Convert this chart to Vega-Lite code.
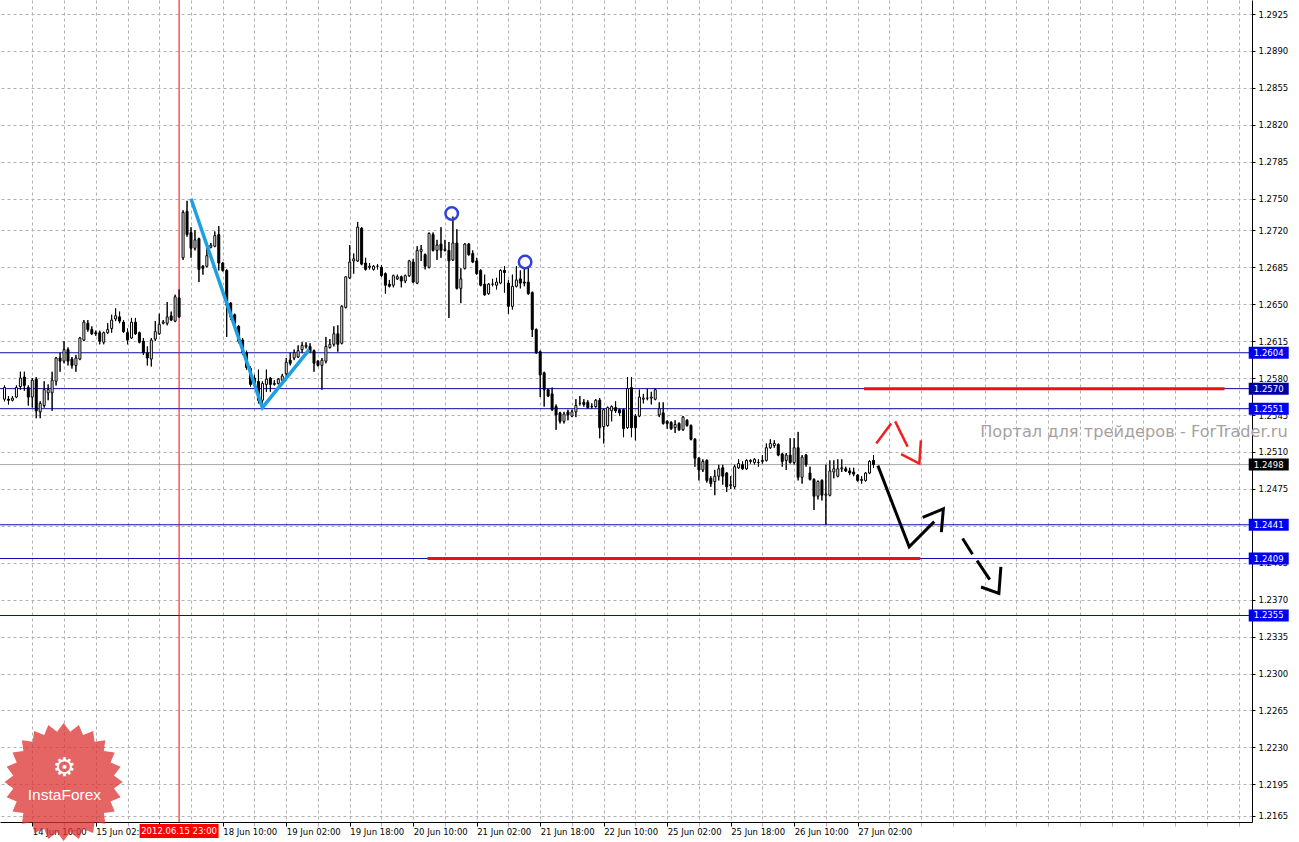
{
  "$schema": "https://vega.github.io/schema/vega-lite/v6.json",
  "width": 1252,
  "height": 822,
  "autosize": {"type": "none"},
  "padding": {"left": 0, "top": 0, "right": 47, "bottom": 20},
  "background": "white",
  "config": {"view": {"stroke": null}, "font": "DejaVu Sans"},
  "datasets": {
    "candles": [
      {"n":-7,"o":1.2560,"h":1.2573,"l":1.2558,"c":1.2571},
      {"n":-6,"o":1.2560,"h":1.2563,"l":1.2555,"c":1.2559},
      {"n":-5,"o":1.2559,"h":1.2563,"l":1.2558,"c":1.2561},
      {"n":-4,"o":1.2562,"h":1.2573,"l":1.2561,"c":1.2571},
      {"n":-3,"o":1.2572,"h":1.2586,"l":1.2569,"c":1.2580},
      {"n":-2,"o":1.2581,"h":1.2586,"l":1.2568,"c":1.2573},
      {"n":-1,"o":1.2571,"h":1.2573,"l":1.2554,"c":1.2562},
      {"n":0,"o":1.2562,"h":1.2580,"l":1.2552,"c":1.2578},
      {"n":1,"o":1.2579,"h":1.2581,"l":1.2542,"c":1.2549},
      {"n":2,"o":1.2548,"h":1.2558,"l":1.2542,"c":1.2556},
      {"n":3,"o":1.2554,"h":1.2577,"l":1.2552,"c":1.2569},
      {"n":4,"o":1.2566,"h":1.2574,"l":1.2559,"c":1.2569},
      {"n":5,"o":1.2566,"h":1.2586,"l":1.2549,"c":1.2578},
      {"n":6,"o":1.2577,"h":1.2600,"l":1.2573,"c":1.2599},
      {"n":7,"o":1.2599,"h":1.2604,"l":1.2586,"c":1.2596},
      {"n":8,"o":1.2596,"h":1.2615,"l":1.2594,"c":1.2607},
      {"n":9,"o":1.2607,"h":1.2609,"l":1.2592,"c":1.2596},
      {"n":10,"o":1.2598,"h":1.2600,"l":1.2589,"c":1.2592},
      {"n":11,"o":1.2592,"h":1.2602,"l":1.2586,"c":1.2599},
      {"n":12,"o":1.2598,"h":1.2619,"l":1.2597,"c":1.2618},
      {"n":13,"o":1.2616,"h":1.2635,"l":1.2615,"c":1.2633},
      {"n":14,"o":1.2632,"h":1.2635,"l":1.2624,"c":1.2626},
      {"n":15,"o":1.2626,"h":1.2629,"l":1.2621,"c":1.2622},
      {"n":16,"o":1.2623,"h":1.2625,"l":1.2620,"c":1.2622},
      {"n":17,"o":1.2623,"h":1.2625,"l":1.2612,"c":1.2615},
      {"n":18,"o":1.2614,"h":1.2624,"l":1.2612,"c":1.2623},
      {"n":19,"o":1.2623,"h":1.2632,"l":1.2622,"c":1.2626},
      {"n":20,"o":1.2627,"h":1.2640,"l":1.2623,"c":1.2635},
      {"n":21,"o":1.2636,"h":1.2646,"l":1.2634,"c":1.2639},
      {"n":22,"o":1.2638,"h":1.2643,"l":1.2632,"c":1.2634},
      {"n":23,"o":1.2633,"h":1.2635,"l":1.2623,"c":1.2624},
      {"n":24,"o":1.2623,"h":1.2627,"l":1.2612,"c":1.2616},
      {"n":25,"o":1.2618,"h":1.2637,"l":1.2617,"c":1.2633},
      {"n":26,"o":1.2633,"h":1.2637,"l":1.2621,"c":1.2622},
      {"n":27,"o":1.2623,"h":1.2624,"l":1.2613,"c":1.2614},
      {"n":28,"o":1.2615,"h":1.2618,"l":1.2602,"c":1.2604},
      {"n":29,"o":1.2604,"h":1.2610,"l":1.2592,"c":1.2599},
      {"n":30,"o":1.2598,"h":1.2618,"l":1.2591,"c":1.2616},
      {"n":31,"o":1.2617,"h":1.2634,"l":1.2615,"c":1.2624},
      {"n":32,"o":1.2622,"h":1.2641,"l":1.2621,"c":1.2631},
      {"n":33,"o":1.2632,"h":1.2635,"l":1.2631,"c":1.2633},
      {"n":34,"o":1.2632,"h":1.2652,"l":1.2630,"c":1.2638},
      {"n":35,"o":1.2639,"h":1.2643,"l":1.2634,"c":1.2635},
      {"n":36,"o":1.2634,"h":1.2659,"l":1.2633,"c":1.2657},
      {"n":37,"o":1.2656,"h":1.2664,"l":1.2637,"c":1.2638},
      {"n":38,"o":1.2694,"h":1.2739,"l":1.2692,"c":1.2737},
      {"n":39,"o":1.2738,"h":1.2748,"l":1.2714,"c":1.2716},
      {"n":40,"o":1.2718,"h":1.2723,"l":1.2694,"c":1.2703},
      {"n":41,"o":1.2703,"h":1.2720,"l":1.2701,"c":1.2711},
      {"n":42,"o":1.2712,"h":1.2713,"l":1.2671,"c":1.2683},
      {"n":43,"o":1.2686,"h":1.2687,"l":1.2678,"c":1.2684},
      {"n":44,"o":1.2686,"h":1.2706,"l":1.2685,"c":1.2696},
      {"n":45,"o":1.2704,"h":1.2708,"l":1.2703,"c":1.2706},
      {"n":46,"o":1.2705,"h":1.2719,"l":1.2704,"c":1.2715},
      {"n":47,"o":1.2716,"h":1.2724,"l":1.2682,"c":1.2689},
      {"n":48,"o":1.2689,"h":1.2690,"l":1.2681,"c":1.2682},
      {"n":49,"o":1.2682,"h":1.2683,"l":1.2619,"c":1.2649},
      {"n":50,"o":1.2651,"h":1.2652,"l":1.2635,"c":1.2638},
      {"n":51,"o":1.2640,"h":1.2641,"l":1.2626,"c":1.2632},
      {"n":52,"o":1.2629,"h":1.2630,"l":1.2613,"c":1.2615},
      {"n":53,"o":1.2616,"h":1.2618,"l":1.2602,"c":1.2604},
      {"n":54,"o":1.2604,"h":1.2606,"l":1.2588,"c":1.2590},
      {"n":55,"o":1.2589,"h":1.2591,"l":1.2572,"c":1.2574},
      {"n":56,"o":1.2580,"h":1.2583,"l":1.2572,"c":1.2574},
      {"n":57,"o":1.2577,"h":1.2588,"l":1.2556,"c":1.2559},
      {"n":58,"o":1.2559,"h":1.2577,"l":1.2552,"c":1.2575},
      {"n":59,"o":1.2574,"h":1.2588,"l":1.2567,"c":1.2579},
      {"n":60,"o":1.2580,"h":1.2581,"l":1.2567,"c":1.2574},
      {"n":61,"o":1.2574,"h":1.2578,"l":1.2573,"c":1.2575},
      {"n":62,"o":1.2575,"h":1.2580,"l":1.2574,"c":1.2579},
      {"n":63,"o":1.2578,"h":1.2584,"l":1.2577,"c":1.2582},
      {"n":64,"o":1.2584,"h":1.2599,"l":1.2581,"c":1.2595},
      {"n":65,"o":1.2597,"h":1.2604,"l":1.2592,"c":1.2594},
      {"n":66,"o":1.2599,"h":1.2607,"l":1.2597,"c":1.2604},
      {"n":67,"o":1.2600,"h":1.2611,"l":1.2599,"c":1.2606},
      {"n":68,"o":1.2607,"h":1.2614,"l":1.2604,"c":1.2611},
      {"n":69,"o":1.2610,"h":1.2614,"l":1.2608,"c":1.2611},
      {"n":70,"o":1.2610,"h":1.2613,"l":1.2604,"c":1.2605},
      {"n":71,"o":1.2606,"h":1.2607,"l":1.2586,"c":1.2594},
      {"n":72,"o":1.2596,"h":1.2597,"l":1.2591,"c":1.2592},
      {"n":73,"o":1.2592,"h":1.2599,"l":1.2569,"c":1.2597},
      {"n":74,"o":1.2596,"h":1.2619,"l":1.2594,"c":1.2610},
      {"n":75,"o":1.2609,"h":1.2617,"l":1.2608,"c":1.2612},
      {"n":76,"o":1.2612,"h":1.2629,"l":1.2610,"c":1.2622},
      {"n":77,"o":1.2622,"h":1.2630,"l":1.2605,"c":1.2612},
      {"n":78,"o":1.2613,"h":1.2649,"l":1.2612,"c":1.2648},
      {"n":79,"o":1.2647,"h":1.2676,"l":1.2646,"c":1.2676},
      {"n":80,"o":1.2675,"h":1.2706,"l":1.2674,"c":1.2690},
      {"n":81,"o":1.2691,"h":1.2698,"l":1.2679,"c":1.2693},
      {"n":82,"o":1.2691,"h":1.2728,"l":1.2690,"c":1.2723},
      {"n":83,"o":1.2722,"h":1.2723,"l":1.2687,"c":1.2688},
      {"n":84,"o":1.2689,"h":1.2694,"l":1.2682,"c":1.2683},
      {"n":85,"o":1.2685,"h":1.2689,"l":1.2683,"c":1.2686},
      {"n":86,"o":1.2683,"h":1.2687,"l":1.2682,"c":1.2686},
      {"n":87,"o":1.2686,"h":1.2688,"l":1.2683,"c":1.2686},
      {"n":88,"o":1.2685,"h":1.2687,"l":1.2676,"c":1.2677},
      {"n":89,"o":1.2679,"h":1.2680,"l":1.2660,"c":1.2668},
      {"n":90,"o":1.2669,"h":1.2673,"l":1.2666,"c":1.2667},
      {"n":91,"o":1.2668,"h":1.2678,"l":1.2666,"c":1.2677},
      {"n":92,"o":1.2674,"h":1.2678,"l":1.2673,"c":1.2676},
      {"n":93,"o":1.2676,"h":1.2677,"l":1.2666,"c":1.2672},
      {"n":94,"o":1.2672,"h":1.2678,"l":1.2670,"c":1.2677},
      {"n":95,"o":1.2677,"h":1.2692,"l":1.2676,"c":1.2691},
      {"n":96,"o":1.2690,"h":1.2693,"l":1.2670,"c":1.2671},
      {"n":97,"o":1.2670,"h":1.2705,"l":1.2669,"c":1.2701},
      {"n":98,"o":1.2700,"h":1.2706,"l":1.2691,"c":1.2702},
      {"n":99,"o":1.2697,"h":1.2698,"l":1.2683,"c":1.2686},
      {"n":100,"o":1.2685,"h":1.2718,"l":1.2684,"c":1.2717},
      {"n":101,"o":1.2716,"h":1.2718,"l":1.2700,"c":1.2701},
      {"n":102,"o":1.2701,"h":1.2711,"l":1.2692,"c":1.2706},
      {"n":103,"o":1.2707,"h":1.2723,"l":1.2694,"c":1.2701},
      {"n":104,"o":1.2701,"h":1.2711,"l":1.2700,"c":1.2702},
      {"n":105,"o":1.2701,"h":1.2709,"l":1.2637,"c":1.2691},
      {"n":106,"o":1.2692,"h":1.2733,"l":1.2691,"c":1.2708},
      {"n":107,"o":1.2708,"h":1.2721,"l":1.2664,"c":1.2665},
      {"n":108,"o":1.2665,"h":1.2684,"l":1.2651,"c":1.2674},
      {"n":109,"o":1.2684,"h":1.2708,"l":1.2683,"c":1.2707},
      {"n":110,"o":1.2707,"h":1.2708,"l":1.2696,"c":1.2697},
      {"n":111,"o":1.2698,"h":1.2701,"l":1.2689,"c":1.2690},
      {"n":112,"o":1.2691,"h":1.2694,"l":1.2678,"c":1.2679},
      {"n":113,"o":1.2682,"h":1.2683,"l":1.2667,"c":1.2668},
      {"n":114,"o":1.2669,"h":1.2678,"l":1.2658,"c":1.2659},
      {"n":115,"o":1.2660,"h":1.2670,"l":1.2659,"c":1.2669},
      {"n":116,"o":1.2669,"h":1.2674,"l":1.2667,"c":1.2669},
      {"n":117,"o":1.2668,"h":1.2675,"l":1.2664,"c":1.2671},
      {"n":118,"o":1.2670,"h":1.2683,"l":1.2669,"c":1.2682},
      {"n":119,"o":1.2682,"h":1.2686,"l":1.2661,"c":1.2680},
      {"n":120,"o":1.2670,"h":1.2673,"l":1.2641,"c":1.2648},
      {"n":121,"o":1.2648,"h":1.2678,"l":1.2645,"c":1.2667},
      {"n":122,"o":1.2667,"h":1.2686,"l":1.2666,"c":1.2673},
      {"n":123,"o":1.2674,"h":1.2682,"l":1.2665,"c":1.2670},
      {"n":124,"o":1.2671,"h":1.2685,"l":1.2667,"c":1.2670},
      {"n":125,"o":1.2671,"h":1.2685,"l":1.2659,"c":1.2660},
      {"n":126,"o":1.2661,"h":1.2662,"l":1.2619,"c":1.2626},
      {"n":127,"o":1.2626,"h":1.2627,"l":1.2603,"c":1.2604},
      {"n":128,"o":1.2605,"h":1.2606,"l":1.2562,"c":1.2583},
      {"n":129,"o":1.2585,"h":1.2586,"l":1.2553,"c":1.2569},
      {"n":130,"o":1.2569,"h":1.2570,"l":1.2562,"c":1.2563},
      {"n":131,"o":1.2565,"h":1.2571,"l":1.2549,"c":1.2550},
      {"n":132,"o":1.2553,"h":1.2555,"l":1.2531,"c":1.2545},
      {"n":133,"o":1.2547,"h":1.2548,"l":1.2537,"c":1.2539},
      {"n":134,"o":1.2539,"h":1.2548,"l":1.2537,"c":1.2546},
      {"n":135,"o":1.2548,"h":1.2550,"l":1.2540,"c":1.2545},
      {"n":136,"o":1.2544,"h":1.2550,"l":1.2543,"c":1.2548},
      {"n":137,"o":1.2548,"h":1.2560,"l":1.2543,"c":1.2554},
      {"n":138,"o":1.2556,"h":1.2563,"l":1.2554,"c":1.2556},
      {"n":139,"o":1.2557,"h":1.2560,"l":1.2553,"c":1.2555},
      {"n":140,"o":1.2557,"h":1.2559,"l":1.2551,"c":1.2552},
      {"n":141,"o":1.2553,"h":1.2556,"l":1.2551,"c":1.2553},
      {"n":142,"o":1.2553,"h":1.2560,"l":1.2552,"c":1.2559},
      {"n":143,"o":1.2559,"h":1.2561,"l":1.2523,"c":1.2533},
      {"n":144,"o":1.2534,"h":1.2551,"l":1.2518,"c":1.2550},
      {"n":145,"o":1.2535,"h":1.2553,"l":1.2534,"c":1.2552},
      {"n":146,"o":1.2549,"h":1.2554,"l":1.2539,"c":1.2553},
      {"n":147,"o":1.2552,"h":1.2558,"l":1.2547,"c":1.2549},
      {"n":148,"o":1.2550,"h":1.2551,"l":1.2544,"c":1.2547},
      {"n":149,"o":1.2550,"h":1.2551,"l":1.2524,"c":1.2532},
      {"n":150,"o":1.2533,"h":1.2581,"l":1.2532,"c":1.2570},
      {"n":151,"o":1.2571,"h":1.2581,"l":1.2524,"c":1.2533},
      {"n":152,"o":1.2544,"h":1.2546,"l":1.2521,"c":1.2533},
      {"n":153,"o":1.2544,"h":1.2569,"l":1.2543,"c":1.2562},
      {"n":154,"o":1.2560,"h":1.2565,"l":1.2556,"c":1.2561},
      {"n":155,"o":1.2561,"h":1.2570,"l":1.2559,"c":1.2561},
      {"n":156,"o":1.2561,"h":1.2567,"l":1.2555,"c":1.2562},
      {"n":157,"o":1.2560,"h":1.2570,"l":1.2559,"c":1.2569},
      {"n":158,"o":1.2545,"h":1.2557,"l":1.2543,"c":1.2551},
      {"n":159,"o":1.2547,"h":1.2557,"l":1.2536,"c":1.2537},
      {"n":160,"o":1.2539,"h":1.2540,"l":1.2532,"c":1.2537},
      {"n":161,"o":1.2538,"h":1.2539,"l":1.2531,"c":1.2532},
      {"n":162,"o":1.2533,"h":1.2540,"l":1.2528,"c":1.2536},
      {"n":163,"o":1.2537,"h":1.2538,"l":1.2530,"c":1.2531},
      {"n":164,"o":1.2531,"h":1.2544,"l":1.2530,"c":1.2543},
      {"n":165,"o":1.2540,"h":1.2541,"l":1.2534,"c":1.2535},
      {"n":166,"o":1.2535,"h":1.2536,"l":1.2521,"c":1.2522},
      {"n":167,"o":1.2522,"h":1.2523,"l":1.2496,"c":1.2504},
      {"n":168,"o":1.2504,"h":1.2505,"l":1.2483,"c":1.2493},
      {"n":169,"o":1.2493,"h":1.2503,"l":1.2491,"c":1.2501},
      {"n":170,"o":1.2502,"h":1.2503,"l":1.2481,"c":1.2483},
      {"n":171,"o":1.2485,"h":1.2487,"l":1.2477,"c":1.2480},
      {"n":172,"o":1.2482,"h":1.2493,"l":1.2469,"c":1.2487},
      {"n":173,"o":1.2487,"h":1.2498,"l":1.2483,"c":1.2494},
      {"n":174,"o":1.2495,"h":1.2498,"l":1.2479,"c":1.2487},
      {"n":175,"o":1.2490,"h":1.2491,"l":1.2472,"c":1.2477},
      {"n":176,"o":1.2478,"h":1.2487,"l":1.2475,"c":1.2479},
      {"n":177,"o":1.2477,"h":1.2498,"l":1.2475,"c":1.2496},
      {"n":178,"o":1.2495,"h":1.2503,"l":1.2494,"c":1.2499},
      {"n":179,"o":1.2498,"h":1.2501,"l":1.2493,"c":1.2494},
      {"n":180,"o":1.2494,"h":1.2503,"l":1.2493,"c":1.2502},
      {"n":181,"o":1.2501,"h":1.2503,"l":1.2499,"c":1.2502},
      {"n":182,"o":1.2500,"h":1.2504,"l":1.2498,"c":1.2503},
      {"n":183,"o":1.2500,"h":1.2503,"l":1.2496,"c":1.2500},
      {"n":184,"o":1.2501,"h":1.2507,"l":1.2499,"c":1.2502},
      {"n":185,"o":1.2502,"h":1.2518,"l":1.2501,"c":1.2514},
      {"n":186,"o":1.2514,"h":1.2522,"l":1.2513,"c":1.2518},
      {"n":187,"o":1.2516,"h":1.2521,"l":1.2514,"c":1.2518},
      {"n":188,"o":1.2517,"h":1.2518,"l":1.2506,"c":1.2507},
      {"n":189,"o":1.2508,"h":1.2509,"l":1.2496,"c":1.2501},
      {"n":190,"o":1.2502,"h":1.2509,"l":1.2493,"c":1.2507},
      {"n":191,"o":1.2507,"h":1.2523,"l":1.2499,"c":1.2500},
      {"n":192,"o":1.2500,"h":1.2523,"l":1.2498,"c":1.2514},
      {"n":193,"o":1.2514,"h":1.2529,"l":1.2483,"c":1.2486},
      {"n":194,"o":1.2486,"h":1.2507,"l":1.2480,"c":1.2505},
      {"n":195,"o":1.2507,"h":1.2508,"l":1.2496,"c":1.2498},
      {"n":196,"o":1.2490,"h":1.2496,"l":1.2483,"c":1.2484},
      {"n":197,"o":1.2484,"h":1.2485,"l":1.2455,"c":1.2468},
      {"n":198,"o":1.2468,"h":1.2483,"l":1.2465,"c":1.2482},
      {"n":199,"o":1.2483,"h":1.2484,"l":1.2464,"c":1.2469},
      {"n":200,"o":1.2469,"h":1.2498,"l":1.2441,"c":1.2470},
      {"n":201,"o":1.2469,"h":1.2502,"l":1.2468,"c":1.2492},
      {"n":202,"o":1.2491,"h":1.2502,"l":1.2485,"c":1.2494},
      {"n":203,"o":1.2487,"h":1.2503,"l":1.2486,"c":1.2494},
      {"n":204,"o":1.2494,"h":1.2503,"l":1.2491,"c":1.2495},
      {"n":205,"o":1.2494,"h":1.2496,"l":1.2491,"c":1.2492},
      {"n":206,"o":1.2492,"h":1.2495,"l":1.2488,"c":1.2490},
      {"n":207,"o":1.2491,"h":1.2495,"l":1.2487,"c":1.2489},
      {"n":208,"o":1.2488,"h":1.2489,"l":1.2482,"c":1.2483},
      {"n":209,"o":1.2483,"h":1.2487,"l":1.2480,"c":1.2484},
      {"n":210,"o":1.2483,"h":1.2491,"l":1.2482,"c":1.2490},
      {"n":211,"o":1.2490,"h":1.2502,"l":1.2489,"c":1.2501},
      {"n":212,"o":1.2502,"h":1.2507,"l":1.2495,"c":1.2498}
    ],
    "levels": [
      {"p":1.2604},{"p":1.2570},{"p":1.2551},{"p":1.2441},{"p":1.2409},{"p":1.2355}
    ],
    "bid": [{"p":1.2498}],
    "tags": [
      {"p":1.2604,"t":"level"},{"p":1.2570,"t":"level2"},{"p":1.2551,"t":"level"},
      {"p":1.2498,"t":"bid"},{"p":1.2441,"t":"level"},{"p":1.2409,"t":"level"},{"p":1.2355,"t":"level"}
    ],
    "redlevels": [
      {"n1":99.6,"n2":223.8,"p":1.2409},
      {"n1":209.6,"n2":300.45,"p":1.2570}
    ],
    "trend": [
      {"k":0,"n":40.0,"p":1.2750},
      {"k":1,"n":58.0,"p":1.2552},
      {"k":2,"n":69.8,"p":1.2607}
    ],
    "circles": [
      {"n":105.7,"p":1.2736},
      {"n":124.2,"p":1.2690}
    ],
    "blackarrow": [
      {"g":"a","k":0,"n":213.1,"p":1.2497},
      {"g":"a","k":1,"n":221.0,"p":1.2420},
      {"g":"a","k":2,"n":227.3,"p":1.2444},
      {"g":"b","k":0,"n":224.4,"p":1.2448},
      {"g":"b","k":1,"n":229.6,"p":1.2456},
      {"g":"b","k":2,"n":229.1,"p":1.2434},
      {"g":"c","k":0,"n":234.45,"p":1.2428},
      {"g":"c","k":1,"n":236.95,"p":1.2413},
      {"g":"d","k":0,"n":238.1,"p":1.2407},
      {"g":"d","k":1,"n":241.3,"p":1.2389},
      {"g":"e","k":0,"n":239.1,"p":1.2382},
      {"g":"e","k":1,"n":243.6,"p":1.2376},
      {"g":"e","k":2,"n":244.1,"p":1.2401}
    ],
    "redarrow": [
      {"g":"f","k":0,"n":212.7,"p":1.2518},
      {"g":"f","k":1,"n":216.45,"p":1.2537},
      {"g":"g","k":0,"n":217.45,"p":1.2539},
      {"g":"g","k":1,"n":220.6,"p":1.2515},
      {"g":"h","k":0,"n":218.95,"p":1.2508},
      {"g":"h","k":1,"n":223.55,"p":1.2499},
      {"g":"h","k":2,"n":223.95,"p":1.2521}
    ],
    "cross": [{"n":37,"label":"2012.06.15 23:00"}],
    "watermark": [{"text":"Портал для трейдеров - ForTrader.ru"}],
    "logo": [{"name":"InstaForex","icon":"⚙"}]
  },
  "layer": [
    {
      "data": {"name": "candles"},
      "mark": {"type": "rule", "color": "black", "strokeWidth": 1},
      "encoding": {
        "x": {
          "field": "n", "type": "quantitative", "title": null,
          "scale": {"domain": [-6.875, 306.125], "nice": false, "zero": false},
          "axis": {
            "title": null,
            "orient": "bottom",
            "tickCount": 200,
            "values": [0,8,16,24,32,40,48,56,64,72,80,88,96,104,112,120,128,136,144,152,160,168,176,184,192,200,208,216,224,232,240,248,256,264,272,280,288,296,304],
            "labelExpr": "(datum.value % 16 === 0 && datum.value >= 0 && datum.value <= 208 && datum.value != 32) ? ['14 Jun 10:00','15 Jun 02:00','15 Jun 18:00','18 Jun 10:00','19 Jun 02:00','19 Jun 18:00','20 Jun 10:00','21 Jun 02:00','21 Jun 18:00','22 Jun 10:00','25 Jun 02:00','25 Jun 18:00','26 Jun 10:00','27 Jun 02:00'][datum.value / 16] : ''",
            "labelAlign": "left",
            "labelBaseline": "top",
            "labelOffset": 0,
            "labelPadding": 1,
            "labelFont": "DejaVu Sans",
            "labelFontSize": 8.5,
            "labelColor": "black",
            "labelOverlap": false,
            "labelBound": false,
            "labelFlush": false,
            "tickSize": 4,
            "tickColor": {"condition": {"test": "datum.value % 16 === 0 && datum.value <= 208", "value": "black"}, "value": "#c8a0c8"},
            "domainColor": "black",
            "grid": true,
            "gridColor": "#b0b0b0",
            "gridDash": [3, 3],
            "gridWidth": 1
          }
        },
        "y": {
          "field": "l", "type": "quantitative", "title": null,
          "scale": {"domain": [1.21593, 1.29383], "nice": false, "zero": false},
          "axis": {
            "title": null,
            "orient": "right",
            "tickCount": 200,
            "values": [1.2925,1.289,1.2855,1.282,1.2785,1.275,1.272,1.2685,1.265,1.2615,1.258,1.2545,1.251,1.2475,1.244,1.2405,1.237,1.2335,1.23,1.2265,1.223,1.2195,1.2165],
            "format": ".4f",
            "labelAlign": "left",
            "labelBaseline": "middle",
            "labelPadding": 3,
            "labelFont": "DejaVu Sans",
            "labelFontSize": 8.5,
            "labelColor": "black",
            "labelOverlap": false,
            "labelBound": false,
            "labelFlush": false,
            "tickSize": 3,
            "tickColor": "black",
            "domainColor": "black",
            "grid": true,
            "gridColor": "#b0b0b0",
            "gridDash": [3, 3],
            "gridWidth": 1
          }
        },
        "y2": {"field": "h"}
      }
    },
    {
      "data": {"name": "levels"},
      "mark": {"type": "rule", "color": "#0a0aa8", "strokeWidth": 1},
      "encoding": {
        "y": {"field": "p", "type": "quantitative", "title": null, "scale": {"domain": [1.21593, 1.29383], "nice": false, "zero": false}}
      }
    },
    {
      "data": {"name": "bid"},
      "mark": {"type": "rule", "color": "#a8a8a8", "strokeWidth": 1},
      "encoding": {
        "y": {"field": "p", "type": "quantitative", "title": null, "scale": {"domain": [1.21593, 1.29383], "nice": false, "zero": false}}
      }
    },
    {
      "data": {"name": "cross"},
      "mark": {"type": "rule", "color": "#ff0000", "strokeWidth": 1},
      "encoding": {
        "x": {"field": "n", "type": "quantitative", "title": null, "scale": {"domain": [-6.875, 306.125], "nice": false, "zero": false}}
      }
    },
    {
      "data": {"name": "redlevels"},
      "mark": {"type": "rule", "color": "#f01010", "strokeWidth": 3},
      "encoding": {
        "x": {"field": "n1", "type": "quantitative", "title": null, "scale": {"domain": [-6.875, 306.125], "nice": false, "zero": false}},
        "x2": {"field": "n2"},
        "y": {"field": "p", "type": "quantitative", "title": null, "scale": {"domain": [1.21593, 1.29383], "nice": false, "zero": false}}
      }
    },
    {
      "data": {"name": "candles"},
      "mark": {"type": "rule", "color": "black", "strokeWidth": 1},
      "encoding": {
        "x": {"field": "n", "type": "quantitative", "title": null, "scale": {"domain": [-6.875, 306.125], "nice": false, "zero": false}},
        "y": {"field": "l", "type": "quantitative", "title": null, "scale": {"domain": [1.21593, 1.29383], "nice": false, "zero": false}},
        "y2": {"field": "h"}
      }
    },
    {
      "data": {"name": "candles"},
      "mark": {"type": "bar", "size": 2, "stroke": "black", "strokeWidth": 1},
      "encoding": {
        "x": {"field": "n", "type": "quantitative", "title": null, "scale": {"domain": [-6.875, 306.125], "nice": false, "zero": false}},
        "y": {"field": "o", "type": "quantitative", "title": null, "scale": {"domain": [1.21593, 1.29383], "nice": false, "zero": false}},
        "y2": {"field": "c"},
        "fill": {"condition": {"test": "datum.c >= datum.o", "value": "white"}, "value": "black"}
      }
    },
    {
      "data": {"name": "trend"},
      "mark": {"type": "line", "color": "#1e9fe0", "strokeWidth": 3.5},
      "encoding": {
        "x": {"field": "n", "type": "quantitative", "title": null, "scale": {"domain": [-6.875, 306.125], "nice": false, "zero": false}},
        "y": {"field": "p", "type": "quantitative", "title": null, "scale": {"domain": [1.21593, 1.29383], "nice": false, "zero": false}},
        "order": {"field": "k"}
      }
    },
    {
      "data": {"name": "circles"},
      "mark": {"type": "point", "shape": "circle", "size": 156, "filled": false, "stroke": "#3040d8", "strokeWidth": 2.5, "opacity": 1},
      "encoding": {
        "x": {"field": "n", "type": "quantitative", "title": null, "scale": {"domain": [-6.875, 306.125], "nice": false, "zero": false}},
        "y": {"field": "p", "type": "quantitative", "title": null, "scale": {"domain": [1.21593, 1.29383], "nice": false, "zero": false}}
      }
    },
    {
      "data": {"name": "blackarrow"},
      "mark": {"type": "line", "color": "black", "strokeWidth": 3},
      "encoding": {
        "x": {"field": "n", "type": "quantitative", "title": null, "scale": {"domain": [-6.875, 306.125], "nice": false, "zero": false}},
        "y": {"field": "p", "type": "quantitative", "title": null, "scale": {"domain": [1.21593, 1.29383], "nice": false, "zero": false}},
        "detail": {"field": "g"},
        "order": {"field": "k"}
      }
    },
    {
      "data": {"name": "redarrow"},
      "mark": {"type": "line", "color": "#f02020", "strokeWidth": 2.5},
      "encoding": {
        "x": {"field": "n", "type": "quantitative", "title": null, "scale": {"domain": [-6.875, 306.125], "nice": false, "zero": false}},
        "y": {"field": "p", "type": "quantitative", "title": null, "scale": {"domain": [1.21593, 1.29383], "nice": false, "zero": false}},
        "detail": {"field": "g"},
        "order": {"field": "k"}
      }
    },
    {
      "data": {"name": "tags"},
      "mark": {"type": "point", "shape": "M-1,-0.3H1V0.3H-1Z", "size": 1600, "filled": true, "opacity": 1, "strokeWidth": 0},
      "encoding": {
        "x": {"datum": 311.6, "type": "quantitative", "title": null, "scale": {"domain": [-6.875, 306.125], "nice": false, "zero": false}},
        "y": {"field": "p", "type": "quantitative", "title": null, "scale": {"domain": [1.21593, 1.29383], "nice": false, "zero": false}},
        "color": {"condition": [{"test": "datum.t === 'bid'", "value": "#000000"}, {"test": "datum.t === 'level2'", "value": "#0000a8"}], "value": "#0000ee"}
      }
    },
    {
      "data": {"name": "tags"},
      "mark": {"type": "text", "color": "white", "font": "DejaVu Sans", "fontSize": 8.5, "align": "center", "baseline": "middle"},
      "encoding": {
        "x": {"datum": 311.6, "type": "quantitative", "title": null, "scale": {"domain": [-6.875, 306.125], "nice": false, "zero": false}},
        "y": {"field": "p", "type": "quantitative", "title": null, "scale": {"domain": [1.21593, 1.29383], "nice": false, "zero": false}},
        "text": {"field": "p", "format": ".4f"}
      }
    },
    {
      "data": {"name": "watermark"},
      "mark": {"type": "text", "color": "#a89f9f", "font": "DejaVu Sans", "fontSize": 16.2, "align": "right", "baseline": "middle"},
      "encoding": {
        "x": {"datum": 316.4, "type": "quantitative", "title": null, "scale": {"domain": [-6.875, 306.125], "nice": false, "zero": false}},
        "y": {"datum": 1.2529, "type": "quantitative", "title": null, "scale": {"domain": [1.21593, 1.29383], "nice": false, "zero": false}},
        "text": {"field": "text"}
      }
    },
    {
      "data": {"name": "cross"},
      "mark": {"type": "point", "shape": "M-1,-0.177H1V0.177H-1Z", "size": 6241, "filled": true, "color": "#ff0000", "opacity": 1, "strokeWidth": 0},
      "encoding": {
        "x": {"field": "n", "type": "quantitative", "title": null, "scale": {"domain": [-6.875, 306.125], "nice": false, "zero": false}},
        "y": {"datum": 1.21508, "type": "quantitative", "title": null, "scale": {"domain": [1.21593, 1.29383], "nice": false, "zero": false}}
      }
    },
    {
      "data": {"name": "cross"},
      "mark": {"type": "text", "color": "white", "font": "DejaVu Sans", "fontSize": 8.5, "align": "center", "baseline": "middle"},
      "encoding": {
        "x": {"field": "n", "type": "quantitative", "title": null, "scale": {"domain": [-6.875, 306.125], "nice": false, "zero": false}},
        "y": {"datum": 1.21508, "type": "quantitative", "title": null, "scale": {"domain": [1.21593, 1.29383], "nice": false, "zero": false}},
        "text": {"field": "label"}
      }
    },
    {
      "data": {"name": "logo"},
      "mark": {"type": "point", "shape": "M1,0L0.853,0.112L0.966,0.259L0.795,0.329L0.866,0.5L0.682,0.524L0.707,0.707L0.524,0.682L0.5,0.866L0.329,0.795L0.259,0.966L0.112,0.853L0,1L-0.112,0.853L-0.259,0.966L-0.329,0.795L-0.5,0.866L-0.524,0.682L-0.707,0.707L-0.682,0.524L-0.866,0.5L-0.795,0.329L-0.966,0.259L-0.853,0.112L-1,0L-0.853,-0.112L-0.966,-0.259L-0.795,-0.329L-0.866,-0.5L-0.682,-0.524L-0.707,-0.707L-0.524,-0.682L-0.5,-0.866L-0.329,-0.795L-0.259,-0.966L-0.112,-0.853L0,-1L0.112,-0.853L0.259,-0.966L0.329,-0.795L0.5,-0.866L0.524,-0.682L0.707,-0.707L0.682,-0.524L0.866,-0.5L0.795,-0.329L0.966,-0.259L0.853,-0.112Z", "size": 13924, "filled": true, "color": "#dc3030", "opacity": 0.75, "strokeWidth": 0},
      "encoding": {
        "x": {"datum": 7.9, "type": "quantitative", "title": null, "scale": {"domain": [-6.875, 306.125], "nice": false, "zero": false}},
        "y": {"datum": 1.21972, "type": "quantitative", "title": null, "scale": {"domain": [1.21593, 1.29383], "nice": false, "zero": false}}
      }
    },
    {
      "data": {"name": "logo"},
      "mark": {"type": "text", "color": "white", "font": "Liberation Sans", "fontSize": 15.5, "align": "center", "baseline": "middle"},
      "encoding": {
        "x": {"datum": 8.1, "type": "quantitative", "title": null, "scale": {"domain": [-6.875, 306.125], "nice": false, "zero": false}},
        "y": {"datum": 1.21849, "type": "quantitative", "title": null, "scale": {"domain": [1.21593, 1.29383], "nice": false, "zero": false}},
        "text": {"field": "name"}
      }
    },
    {
      "data": {"name": "logo"},
      "mark": {"type": "text", "color": "white", "font": "DejaVu Sans", "fontSize": 26, "align": "center", "baseline": "middle"},
      "encoding": {
        "x": {"datum": 8.1, "type": "quantitative", "title": null, "scale": {"domain": [-6.875, 306.125], "nice": false, "zero": false}},
        "y": {"datum": 1.22105, "type": "quantitative", "title": null, "scale": {"domain": [1.21593, 1.29383], "nice": false, "zero": false}},
        "text": {"field": "icon"}
      }
    }
  ]
}
